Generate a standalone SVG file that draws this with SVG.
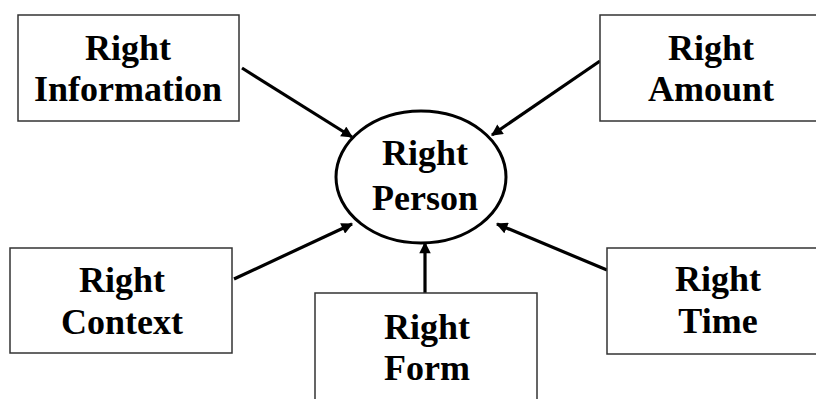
<svg xmlns="http://www.w3.org/2000/svg" width="816" height="399" viewBox="0 0 816 399">
  <style>
    .box { fill: #ffffff; stroke: #333333; stroke-width: 1.5; }
    .hub { fill: #ffffff; stroke: #000000; stroke-width: 3; }
    .label { font-family: "Liberation Serif", "Times New Roman", serif; font-weight: bold; font-size: 36px; fill: #000000; text-anchor: middle; }
    .link { stroke: #000000; stroke-width: 3.2; fill: none; marker-end: url(#head); }
  </style>
  <defs>
    <marker id="head" viewBox="0 0 10 10" refX="9" refY="5" markerWidth="3.8" markerHeight="3.6" markerUnits="strokeWidth" orient="auto">
      <path d="M0,0 L10,5 L0,10 z" fill="#000000"/>
    </marker>
  </defs>
  <rect width="816" height="399" fill="#ffffff"/>

  <g id="connectors">
    <line class="link" x1="242" y1="68" x2="352" y2="137"/>
    <line class="link" x1="600" y1="61" x2="492" y2="135"/>
    <line class="link" x1="234" y1="279" x2="352" y2="224"/>
    <line class="link" x1="425" y1="293" x2="425" y2="243"/>
    <line class="link" x1="607" y1="270" x2="497" y2="224"/>
  </g>

  <g id="person">
    <ellipse class="hub" cx="421" cy="177" rx="85" ry="66"/>
    <text class="label" x="425" y="165">Right</text>
    <text class="label" x="425" y="210">Person</text>
  </g>

  <g id="information">
    <rect class="box" x="18" y="15" width="221" height="106"/>
    <text class="label" x="128" y="60">Right</text>
    <text class="label" x="128" y="101">Information</text>
  </g>

  <g id="amount">
    <rect class="box" x="600" y="15" width="222" height="106"/>
    <text class="label" x="711" y="60">Right</text>
    <text class="label" x="711" y="101">Amount</text>
  </g>

  <g id="context">
    <rect class="box" x="10" y="248" width="222" height="105"/>
    <text class="label" x="122" y="292">Right</text>
    <text class="label" x="122" y="334">Context</text>
  </g>

  <g id="form">
    <rect class="box" x="315" y="293" width="222" height="110"/>
    <text class="label" x="427" y="339">Right</text>
    <text class="label" x="427" y="380">Form</text>
  </g>

  <g id="time">
    <rect class="box" x="607" y="248" width="222" height="106"/>
    <text class="label" x="718" y="291">Right</text>
    <text class="label" x="718" y="333">Time</text>
  </g>
</svg>
